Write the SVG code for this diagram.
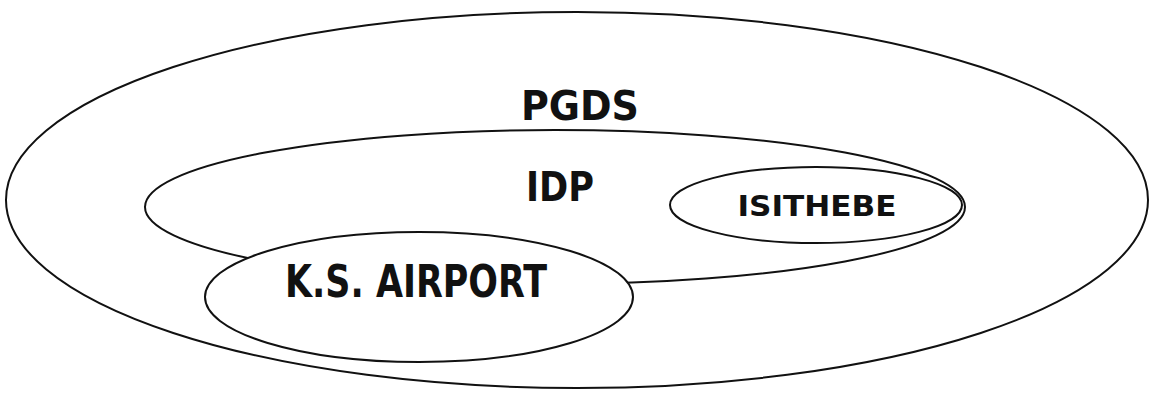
<svg xmlns="http://www.w3.org/2000/svg" width="1154" height="397" viewBox="0 0 1154 397">
<style>
.e{fill:none;stroke:#111;stroke-width:2}
.w{fill:#fff;stroke:#111;stroke-width:2}
.t{font-family:"DejaVu Sans Condensed","DejaVu Sans",sans-serif;font-weight:bold;fill:#111;text-anchor:middle}
</style>
<rect width="1154" height="397" fill="#fff"/>
<g id="pgds">
<ellipse class="e" cx="577" cy="200" rx="571" ry="188"/>
<text class="t" x="580" y="120" font-size="40" textLength="118" lengthAdjust="spacingAndGlyphs">PGDS</text>
</g>
<g id="idp">
<ellipse class="e" cx="555" cy="207" rx="410" ry="77"/>
<text class="t" x="560" y="201" font-size="40" textLength="68" lengthAdjust="spacingAndGlyphs">IDP</text>
</g>
<g id="isithebe">
<ellipse class="e" cx="816" cy="205" rx="146" ry="38"/>
<text class="t" x="817" y="216" font-size="29" textLength="159" lengthAdjust="spacingAndGlyphs">ISITHEBE</text>
</g>
<g id="ksairport">
<ellipse class="w" cx="419" cy="297" rx="214" ry="65"/>
<text class="t" x="416" y="297" font-size="44" textLength="262" lengthAdjust="spacingAndGlyphs">K.S. AIRPORT</text>
</g>
<g id="connectors"></g>
</svg>
